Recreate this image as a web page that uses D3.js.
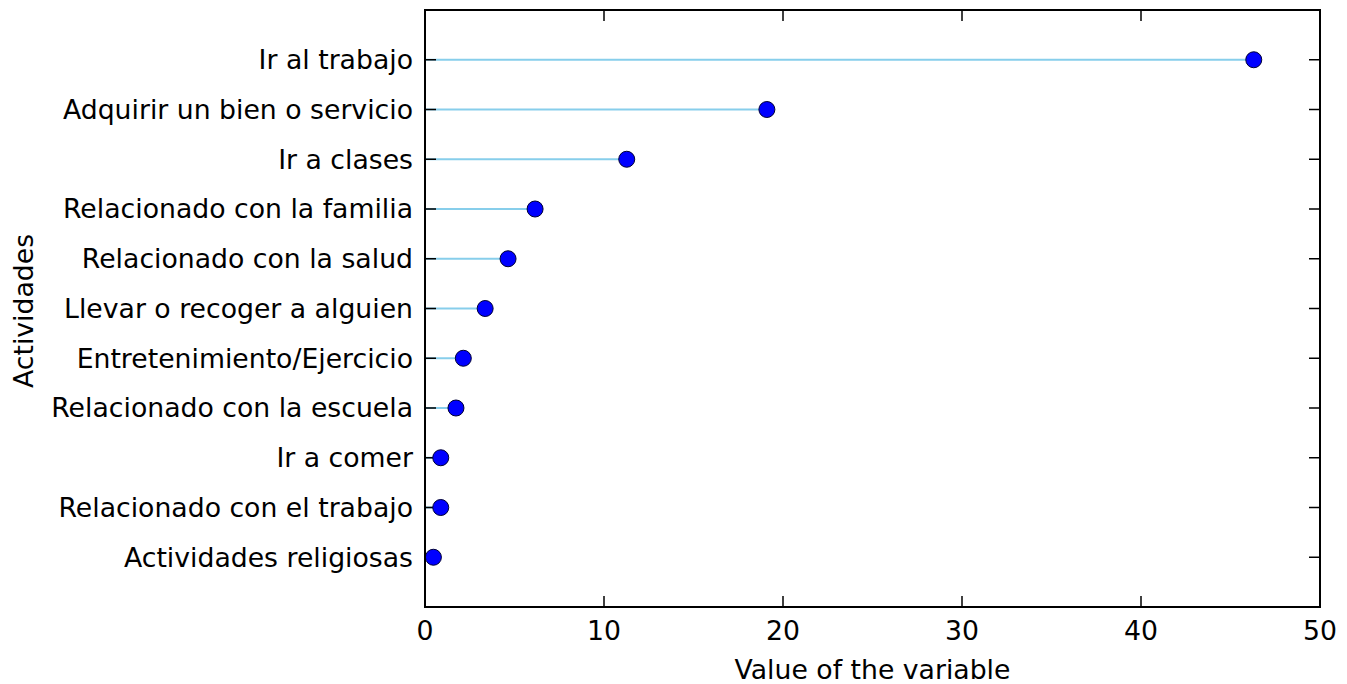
<!DOCTYPE html>
<html>
<head>
<meta charset="utf-8">
<script src="https://cdn.jsdelivr.net/npm/d3@7"></script>
<style>
  body { margin: 0; background: #fff; }
  text { font-family: "DejaVu Sans", sans-serif; fill: #000; }
</style>
</head>
<body>
<svg id="chart"></svg>
<script>
// categories, top to bottom
const actividades = [
  "Ir al trabajo",
  "Adquirir un bien o servicio",
  "Ir a clases",
  "Relacionado con la familia",
  "Relacionado con la salud",
  "Llevar o recoger a alguien",
  "Entretenimiento/Ejercicio",
  "Relacionado con la escuela",
  "Ir a comer",
  "Relacionado con el trabajo",
  "Actividades religiosas"
];
const valores = [46.3, 19.1, 11.27, 6.15, 4.64, 3.36, 2.14, 1.73, 0.88, 0.88, 0.47];
const xTicks = [0, 10, 20, 30, 40, 50];

const width = 1347, height = 684;
const plotLeft = 425, plotRight = 1320, plotTop = 10, plotBottom = 607;
const tickLen = 11;
const fontSize = "26.7px";

const svg = d3.select("#chart")
  .attr("width", width)
  .attr("height", height);

const x = d3.scaleLinear().domain([0, 50]).range([plotLeft, plotRight]);
// categories sit at 1..11, with one empty slot above and below
const y = d3.scaleLinear().domain([0, actividades.length + 1]).range([plotTop, plotBottom]);
const yPos = (d, i) => y(i + 1);

const data = actividades.map((a, i) => ({ a: a, v: valores[i] }));

// stems
svg.append("g")
  .selectAll("line")
  .data(data)
  .join("line")
  .attr("x1", x(0))
  .attr("x2", d => x(d.v))
  .attr("y1", yPos)
  .attr("y2", yPos)
  .attr("stroke", "#87ceeb")
  .attr("stroke-width", 2);

// ticks, inside on all four sides
const ticks = svg.append("g").attr("stroke", "#000").attr("stroke-width", 1.5);
ticks.append("g").selectAll("line").data(xTicks).join("line")
  .attr("x1", d => x(d)).attr("x2", d => x(d))
  .attr("y1", plotBottom).attr("y2", plotBottom - tickLen);
ticks.append("g").selectAll("line").data(xTicks).join("line")
  .attr("x1", d => x(d)).attr("x2", d => x(d))
  .attr("y1", plotTop).attr("y2", plotTop + tickLen);
ticks.append("g").selectAll("line").data(data).join("line")
  .attr("x1", plotLeft).attr("x2", plotLeft + tickLen)
  .attr("y1", yPos).attr("y2", yPos);
ticks.append("g").selectAll("line").data(data).join("line")
  .attr("x1", plotRight).attr("x2", plotRight - tickLen)
  .attr("y1", yPos).attr("y2", yPos);

// dots
svg.append("g")
  .selectAll("circle")
  .data(data)
  .join("circle")
  .attr("cx", d => x(d.v))
  .attr("cy", yPos)
  .attr("r", 8)
  .attr("fill", "#0000ff")
  .attr("stroke", "#000033")
  .attr("stroke-width", 1);

// frame
svg.append("rect")
  .attr("x", plotLeft).attr("y", plotTop)
  .attr("width", plotRight - plotLeft).attr("height", plotBottom - plotTop)
  .attr("fill", "none")
  .attr("stroke", "#000")
  .attr("stroke-width", 2);

// tick labels
svg.append("g")
  .selectAll("text")
  .data(xTicks)
  .join("text")
  .attr("x", d => x(d))
  .attr("y", plotBottom + 33)
  .attr("text-anchor", "middle")
  .style("font-size", fontSize)
  .text(d => d);

svg.append("g")
  .selectAll("text")
  .data(data)
  .join("text")
  .attr("x", plotLeft - 12)
  .attr("y", yPos)
  .attr("dy", "0.35em")
  .attr("text-anchor", "end")
  .style("font-size", fontSize)
  .text(d => d.a);

// axis titles
svg.append("text")
  .attr("x", (plotLeft + plotRight) / 2)
  .attr("y", 679)
  .attr("text-anchor", "middle")
  .style("font-size", fontSize)
  .text("Value of the variable");

svg.append("text")
  .attr("transform", "translate(33,311) rotate(-90)")
  .attr("text-anchor", "middle")
  .style("font-size", fontSize)
  .text("Actividades");
</script>
</body>
</html>
